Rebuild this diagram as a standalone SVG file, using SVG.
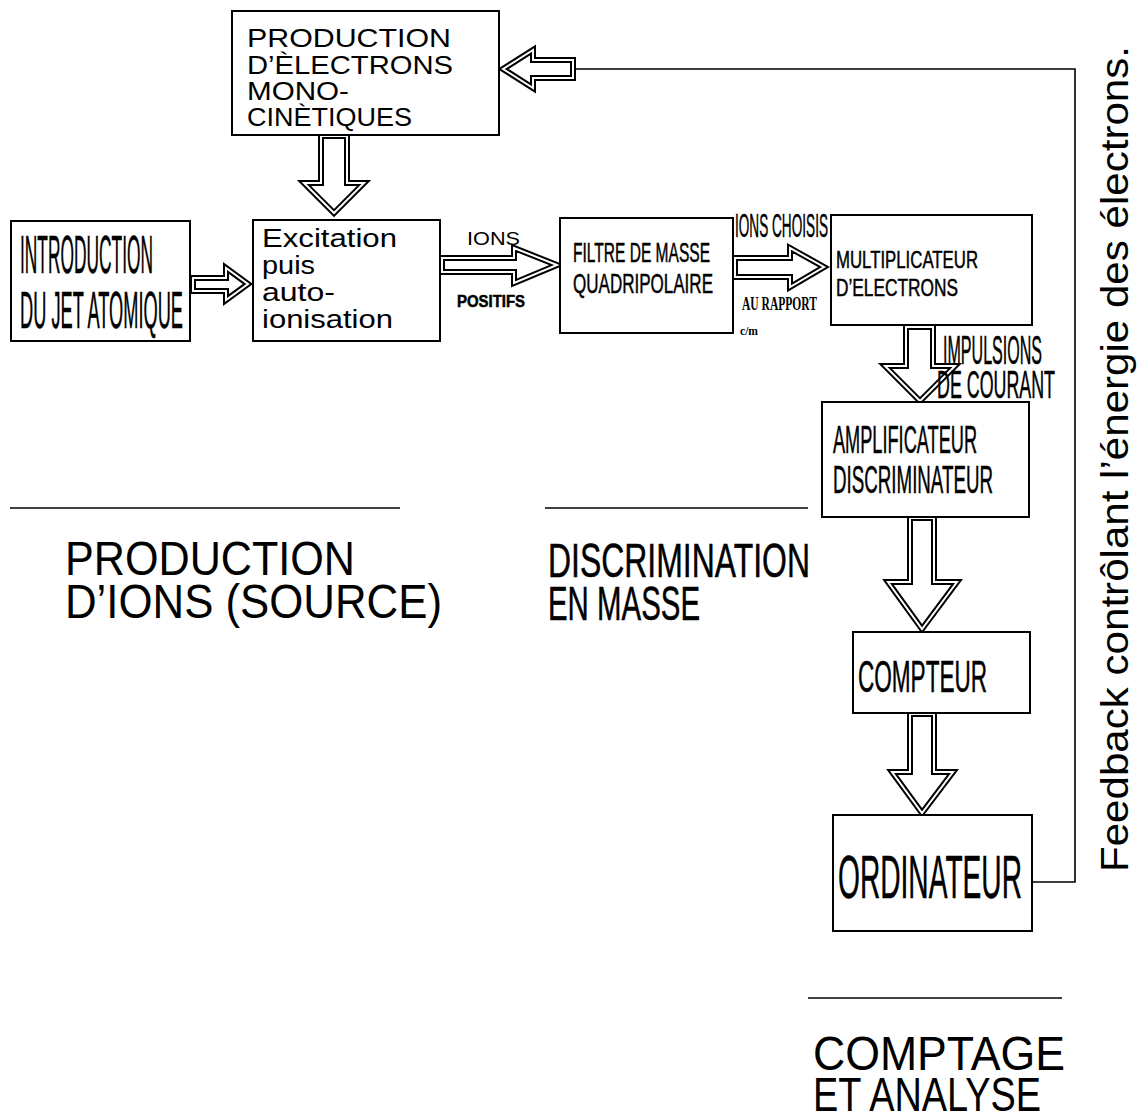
<svg xmlns="http://www.w3.org/2000/svg" xmlns:xlink="http://www.w3.org/1999/xlink" width="1138" height="1116" viewBox="0 0 1138 1116">
<style>
.box{fill:#fff;stroke:#000;stroke-width:2}
.t{font-family:"Liberation Sans","DejaVu Sans",sans-serif;fill:#000}
.n{font-family:"Liberation Sans Narrow","Liberation Sans",sans-serif;fill:#000;stroke:#000;stroke-width:0.5}
.s{font-family:"Liberation Serif",serif;font-weight:bold;fill:#000}
.ao{fill:#fff;stroke:#000;stroke-width:6;stroke-linejoin:miter}
.ai{fill:none;stroke:#fff;stroke-width:2;stroke-linejoin:miter}
.ln{fill:none;stroke:#000;stroke-width:1.6}
</style>
<defs>
  <polygon id="a1" points="321,136 347,136 347,183 364,183 334,213 304,183 321,183"/>
  <polygon id="a2" points="193,278 226,278 226,268 248,284 226,300 226,291 193,291"/>
  <polygon id="a3" points="442,258 514,258 514,248 557,265 514,283 514,272 442,272"/>
  <polygon id="a4" points="735,258 790,258 790,248 824,267 790,287 790,277 735,277"/>
  <polygon id="a5" points="906,327 933,327 933,366 955,366 920,401 885,366 906,366"/>
  <polygon id="a6" points="910,518 934,518 934,582 957,582 922,629 888,582 910,582"/>
  <polygon id="a7" points="910,714 934,714 934,772 953,772 922,813 892,772 910,772"/>
  <polygon id="a8" points="573,60 533,60 533,50 503,69 533,88 533,78 573,78"/>
</defs>
<rect width="1138" height="1116" fill="#fff"/>
<g id="connectors">
  <polyline class="ln" points="573,69 1075,69 1075,882 1032,882"/>
  <use xlink:href="#a1" class="ao"/><use xlink:href="#a1" class="ai"/>
  <use xlink:href="#a2" class="ao"/><use xlink:href="#a2" class="ai"/>
  <use xlink:href="#a3" class="ao"/><use xlink:href="#a3" class="ai"/>
  <use xlink:href="#a4" class="ao"/><use xlink:href="#a4" class="ai"/>
  <use xlink:href="#a5" class="ao"/><use xlink:href="#a5" class="ai"/>
  <use xlink:href="#a6" class="ao"/><use xlink:href="#a6" class="ai"/>
  <use xlink:href="#a7" class="ao"/><use xlink:href="#a7" class="ai"/>
  <use xlink:href="#a8" class="ao"/><use xlink:href="#a8" class="ai"/>
</g>
<g id="labels">
  <text class="t" x="467" y="245" font-size="18" textLength="53" lengthAdjust="spacingAndGlyphs">IONS</text>
  <text class="n" x="457" y="307" font-size="16" font-weight="bold" textLength="68" lengthAdjust="spacingAndGlyphs">POSITIFS</text>
  <text class="n" x="735" y="237" font-size="33" textLength="93" lengthAdjust="spacingAndGlyphs">IONS CHOISIS</text>
  <text class="s" x="742" y="310" font-size="18" textLength="75" lengthAdjust="spacingAndGlyphs">AU RAPPORT</text>
  <text class="s" x="740" y="335" font-size="13" textLength="18" lengthAdjust="spacingAndGlyphs">c/m</text>
  <text class="n" x="943" y="364" font-size="40" textLength="99" lengthAdjust="spacingAndGlyphs">IMPULSIONS</text>
  <text class="n" x="937" y="398" font-size="38" textLength="118" lengthAdjust="spacingAndGlyphs">DE COURANT</text>
  <text class="t" x="1128" y="872" font-size="38" textLength="826" lengthAdjust="spacingAndGlyphs" transform="rotate(-90 1128 872)">Feedback contrôlant l’énergie des électrons.</text>
</g>
<g id="node-prod-electrons">
  <rect class="box" x="232" y="11" width="267" height="124"/>
  <text class="t" x="247" y="47" font-size="25" textLength="204" lengthAdjust="spacingAndGlyphs">PRODUCTION</text>
  <text class="t" x="247" y="74" font-size="25" textLength="206" lengthAdjust="spacingAndGlyphs">D’ÈLECTRONS</text>
  <text class="t" x="247" y="100" font-size="25" textLength="102" lengthAdjust="spacingAndGlyphs">MONO-</text>
  <text class="t" x="247" y="126" font-size="25" textLength="165" lengthAdjust="spacingAndGlyphs">CINÈTIQUES</text>
</g>
<g id="node-introduction">
  <rect class="box" x="11" y="221" width="179" height="120"/>
  <text class="n" x="20" y="273" font-size="54" textLength="133" lengthAdjust="spacingAndGlyphs">INTRODUCTION</text>
  <text class="n" x="20" y="328" font-size="52" textLength="163" lengthAdjust="spacingAndGlyphs">DU JET ATOMIQUE</text>
</g>
<g id="node-excitation">
  <rect class="box" x="253" y="220" width="187" height="121"/>
  <text class="t" x="262" y="247" font-size="26" textLength="135" lengthAdjust="spacingAndGlyphs">Excitation</text>
  <text class="t" x="262" y="274" font-size="26" textLength="53" lengthAdjust="spacingAndGlyphs">puis</text>
  <text class="t" x="262" y="301" font-size="26" textLength="73" lengthAdjust="spacingAndGlyphs">auto-</text>
  <text class="t" x="262" y="328" font-size="26" textLength="131" lengthAdjust="spacingAndGlyphs">ionisation</text>
</g>
<g id="node-filtre">
  <rect class="box" x="560" y="218" width="173" height="115"/>
  <text class="n" x="573" y="262" font-size="28" textLength="137" lengthAdjust="spacingAndGlyphs">FILTRE DE MASSE</text>
  <text class="n" x="573" y="293" font-size="28" textLength="140" lengthAdjust="spacingAndGlyphs">QUADRIPOLAIRE</text>
</g>
<g id="node-multiplicateur">
  <rect class="box" x="831" y="215" width="201" height="110"/>
  <text class="n" x="836" y="268" font-size="24" textLength="142" lengthAdjust="spacingAndGlyphs">MULTIPLICATEUR</text>
  <text class="n" x="836" y="296" font-size="24" textLength="122" lengthAdjust="spacingAndGlyphs">D’ELECTRONS</text>
</g>
<g id="node-amplificateur">
  <rect class="box" x="822" y="402" width="207" height="115"/>
  <text class="n" x="833" y="453" font-size="38" textLength="144" lengthAdjust="spacingAndGlyphs">AMPLIFICATEUR</text>
  <text class="n" x="833" y="493" font-size="38" textLength="160" lengthAdjust="spacingAndGlyphs">DISCRIMINATEUR</text>
</g>
<g id="node-compteur">
  <rect class="box" x="853" y="632" width="177" height="81"/>
  <text class="n" x="858" y="692" font-size="44" textLength="129" lengthAdjust="spacingAndGlyphs">COMPTEUR</text>
</g>
<g id="node-ordinateur">
  <rect class="box" x="833" y="815" width="199" height="116"/>
  <text class="n" x="838" y="898" font-size="62" textLength="184" lengthAdjust="spacingAndGlyphs">ORDINATEUR</text>
</g>
<g id="sections">
  <line class="ln" x1="10" y1="508" x2="400" y2="508"/>
  <line class="ln" x1="545" y1="508" x2="808" y2="508"/>
  <line class="ln" x1="808" y1="998" x2="1062" y2="998"/>
  <text class="t" x="65" y="575" font-size="48" textLength="290" lengthAdjust="spacingAndGlyphs">PRODUCTION</text>
  <text class="t" x="65" y="618" font-size="48" textLength="377" lengthAdjust="spacingAndGlyphs">D’IONS (SOURCE)</text>
  <text class="n" x="548" y="577" font-size="48" textLength="262" lengthAdjust="spacingAndGlyphs">DISCRIMINATION</text>
  <text class="n" x="548" y="620" font-size="48" textLength="152" lengthAdjust="spacingAndGlyphs">EN MASSE</text>
  <text class="t" x="813" y="1070" font-size="48" textLength="252" lengthAdjust="spacingAndGlyphs">COMPTAGE</text>
  <text class="t" x="813" y="1111" font-size="48" textLength="228" lengthAdjust="spacingAndGlyphs">ET ANALYSE</text>
</g>
</svg>
